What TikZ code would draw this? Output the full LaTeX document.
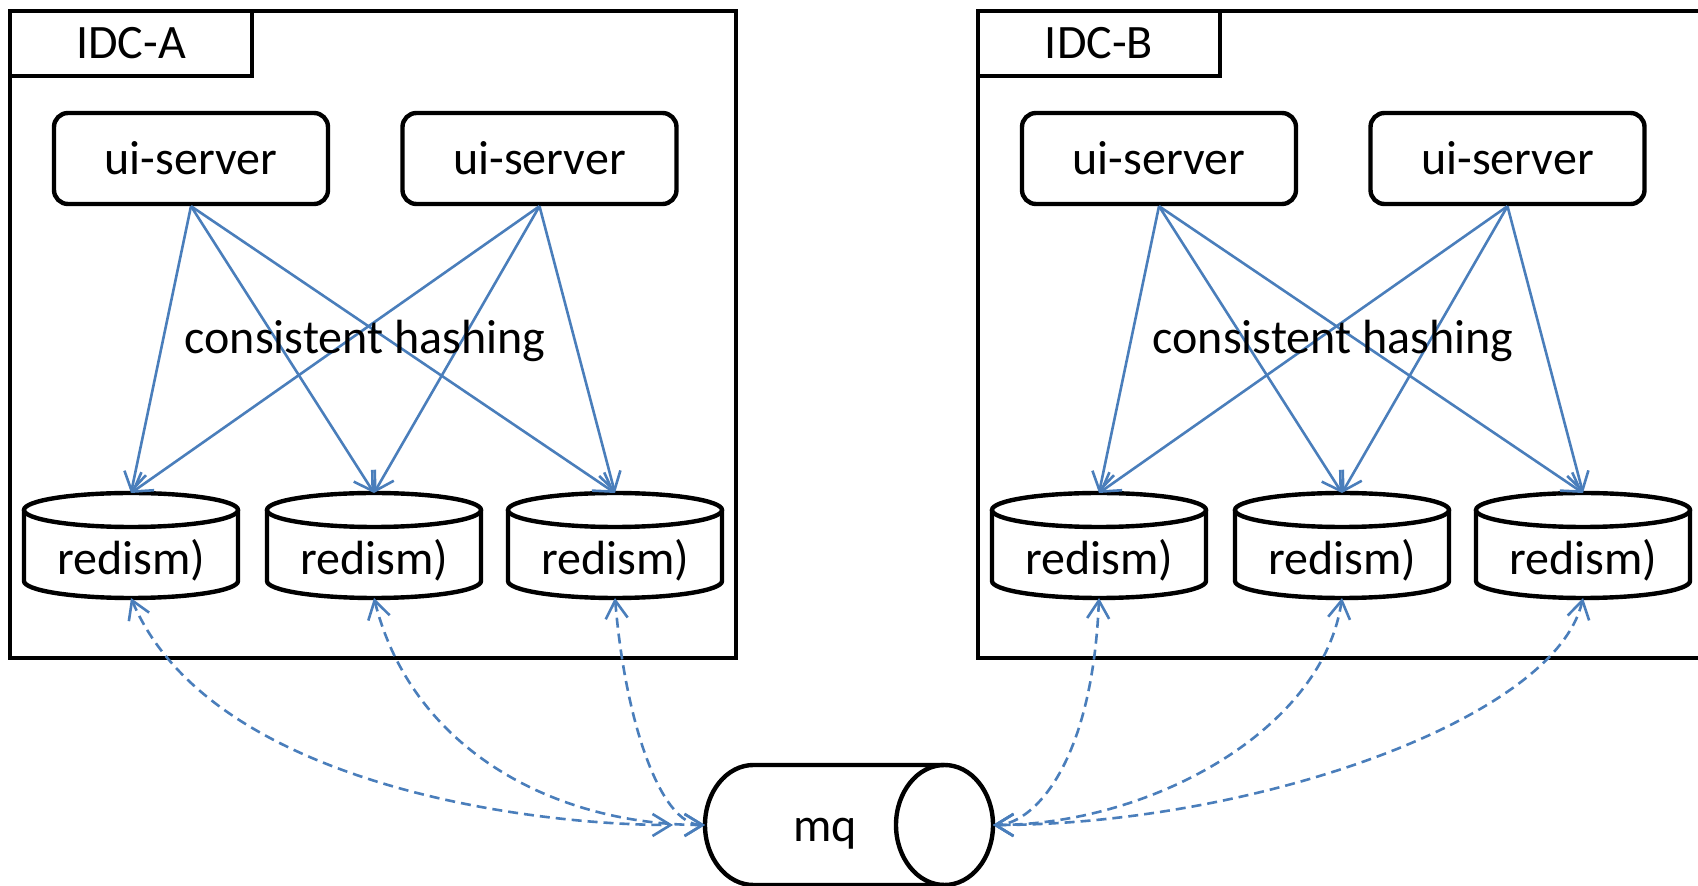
\documentclass[tikz,border=0pt]{standalone}
\usepackage{fontspec}
\setmainfont{Carlito}
\usetikzlibrary{arrows.meta}
\definecolor{lnblue}{RGB}{74,126,187}
\begin{document}
\begin{tikzpicture}[x=0.5pt,y=0.5pt,
  every node/.style={font=\fontsize{24pt}{28pt}\selectfont, inner sep=0pt},
  frame/.style={draw=black, line width=2.2pt},
  labbox/.style={draw=black, line width=2.2pt, minimum width=121pt, minimum height=32.5pt, outer sep=0pt, anchor=north west},
  srv/.style={draw=black, line width=2.2pt, rounded corners=7pt, minimum width=137pt, minimum height=45.5pt},
  db/.style={minimum width=107pt, minimum height=52.5pt, outer sep=0pt},
  dbline/.style={draw=black, line width=2.2pt},
  tipstyle/.style={},
  link/.style={draw=lnblue, line width=1.3pt, -{Straight Barb[length=9pt,width=11pt]}},
  sync/.style={draw=lnblue, line width=1.3pt, dash pattern=on 5pt off 3pt, {Straight Barb[length=9pt,width=11pt]}-{Straight Barb[length=9pt,width=11pt]}},
]
\useasboundingbox (0,0) rectangle (1698,-886);

\foreach \g/\dx/\lbl in {A/0/IDC-A, B/968/IDC-B} {
  \begin{scope}[shift={(\dx,0)}]
    \draw[frame] (10,-11) rectangle (736,-658);
    \node[labbox] (lab\g) at (10,-11) {\lbl};
    \node[srv] (s\g1) at (191,-158.5) {ui-server};
    \node[srv] (s\g2) at (539.5,-158.5) {ui-server};
    \node[db] (r\g1) at (131,-545.5) {};
    \node[db] (r\g2) at (374,-545.5) {};
    \node[db] (r\g3) at (615,-545.5) {};
    \foreach \i in {1,2,3} {
      \draw[dbline] ([yshift=-8.5pt]r\g\i.north west) -- ([yshift=8.5pt]r\g\i.south west)
        arc[start angle=180, end angle=360, x radius=53.5pt, y radius=8.5pt]
        -- ([yshift=-8.5pt]r\g\i.north east);
      \draw[dbline] ([yshift=-8.5pt]r\g\i.north) ellipse[x radius=53.5pt, y radius=8.5pt];
      \node (t\g\i) at ([yshift=-7.5pt]r\g\i.center) {redism)};
    }
    \foreach \s in {1,2} {
      \foreach \i in {1,2,3} {
        \draw[link] (s\g\s.south) -- (r\g\i.north);
      }
    }
    \node (ch\g) at (365,-341) {consistent hashing};
  \end{scope}
}

% message queue
\node[minimum width=144pt, minimum height=60pt, outer sep=0pt] (mq) at (849,-825) {};
\draw[dbline] ([xshift=-24.25pt]mq.north east) -- ([xshift=24.25pt]mq.north west)
  arc[start angle=90, end angle=270, x radius=24.25pt, y radius=30pt]
  -- ([xshift=-24.25pt]mq.south east);
\draw[dbline] ([xshift=-24.25pt]mq.east) ellipse[x radius=24.25pt, y radius=30pt];
\node (mqt) at (825,-834) {mq};
\coordinate (mqA1) at (673,-825);

\draw[sync] (rA1.south) .. controls +(78,-184) and +(-150,0) .. (mqA1);
\draw[sync] (rA2.south) .. controls +(38,-152) and +(-150,0) .. (mq.west);
\draw[sync] (rA3.south) .. controls +(10,-122) and +(-45,0) .. (mq.west);
\draw[sync] (rB1.south) .. controls +(-7,-172) and +(37,0) .. (mq.east);
\draw[sync] (rB2.south) .. controls +(-19,-132) and +(157,0) .. (mq.east);
\draw[sync] (rB3.south) .. controls +(-28,-122) and +(257,0) .. (mq.east);
\end{tikzpicture}
\end{document}
